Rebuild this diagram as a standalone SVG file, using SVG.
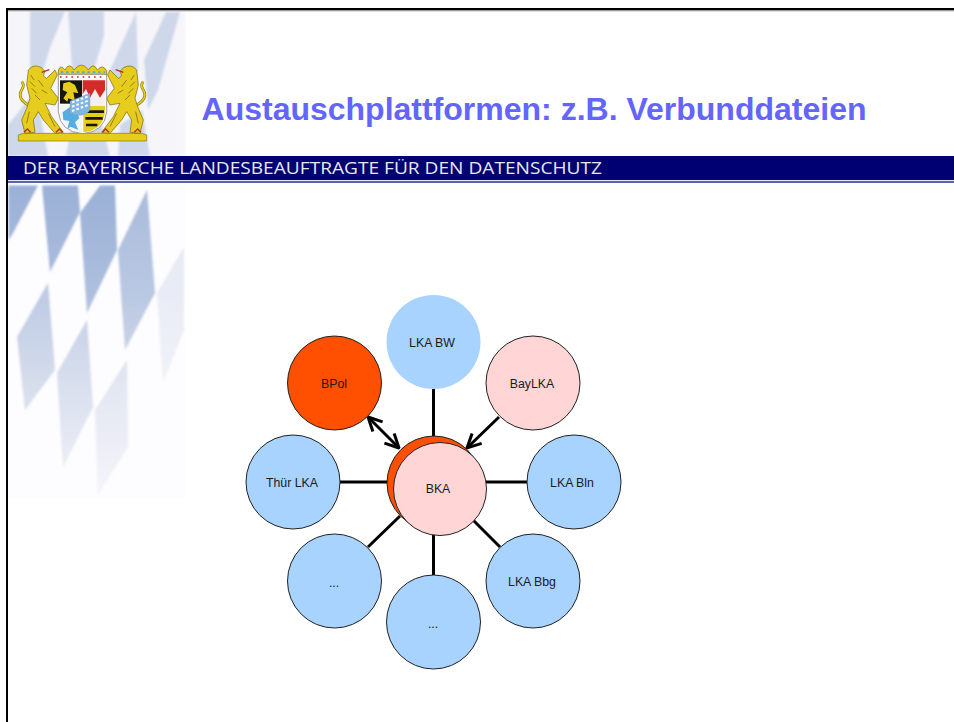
<svg xmlns="http://www.w3.org/2000/svg" width="954" height="722" viewBox="0 0 954 722">
<style>
.n{stroke:#222;stroke-width:1}
.b{fill:#a9d3ff}.p{fill:#ffd5d5}.o{fill:#ff4f00}
.t{font-family:"Liberation Sans",Arial,sans-serif;font-size:12.3px;text-anchor:middle;fill:#1a1a1a}
.c{stroke:#000;stroke-width:3;fill:none}
.y{fill:#e6cc1c;stroke:#7a6500;stroke-width:2}
.ln{fill:none;stroke:#6d5a00;stroke-width:2}
</style>
<defs>
<filter id="bl" x="-5%" y="-5%" width="110%" height="110%"><feGaussianBlur stdDeviation="1.2"/></filter>
<filter id="bs" x="-5%" y="-5%" width="110%" height="110%"><feGaussianBlur stdDeviation=".5"/></filter>
<linearGradient id="fc" x1="0" y1="185" x2="0" y2="499" gradientUnits="userSpaceOnUse"><stop offset="0" stop-color="#9ab0d6"/><stop offset=".35" stop-color="#aebfde"/><stop offset=".65" stop-color="#cdd6e8"/><stop offset="1" stop-color="#f0eff8"/></linearGradient>
<marker id="ah" viewBox="0 0 12 12" refX="11" refY="6" markerWidth="5.500" markerHeight="5.500" orient="auto-start-reverse" markerUnits="strokeWidth"><path d="M1 1L11 6L1 11" fill="none" stroke="#000" stroke-width="2.200"/></marker>
<g id="lion">
<path d="M55 150Q20 130 35 105Q45 90 35 80" fill="none" stroke="#7a6500" stroke-width="8"/>
<path d="M55 150Q20 130 35 105Q45 90 35 80" fill="none" stroke="#e6cc1c" stroke-width="5"/>
<path class="y" d="M55 45Q70 25 95 38L105 50Q95 65 110 70L135 45L142 60L122 100L145 130L135 150L105 145L125 185L160 232L135 235L100 195L85 170L70 195L75 232L45 235L35 195L50 160L60 130L50 90Z"/>
<path class="ln" d="M62 60L72 75M60 80L75 95M65 100L80 115M75 120L90 135M85 75L100 95M95 105L112 115M58 170L50 205M115 175L135 215"/>
<path d="M95 52L118 44" stroke="#c0232a" stroke-width="3.500" fill="none"/>
<path d="M42 232L52 222L62 232M138 232L148 222L158 232" fill="none" stroke="#b03020" stroke-width="4"/>
</g>
</defs>
<rect width="954" height="722" fill="#fff"/>
<g id="background">
<g filter="url(#bl)">
<rect x="8" y="11" width="177" height="145" fill="#f5f5fa"/>
<g fill="#ced8ea">
<path d="M30 11H65L50 48L37 90L30 72Z"/>
<path d="M68 11H104L104 36L88 90L72 68Z"/>
<path d="M110 70L136 12L138 70L122 110Z"/>
<path d="M144 60L166 12H180L158 90L148 110Z"/>
<path d="M8 125L36 90L48 156H8Z"/>
<path d="M76 100L92 90L110 156H66Z"/>
<path d="M120 125L142 110L150 156H118Z"/>
</g>
</g>
<rect x="8" y="185" width="177" height="314" fill="#fdfcfe"/>
<g filter="url(#bl)" fill="url(#fc)">
<path d="M8.500 185.500H38L12 235L8.500 240Z"/>
<path d="M42 185.500H78L80 212L50 272Z"/>
<path d="M80 213L100 185.500H115L117 250L87 313Z"/>
<path d="M118 250L147 190L155 293L125 350Z" opacity=".85"/>
<path d="M48 283L17 337L25 410L55 370Z" opacity=".8"/>
<path d="M87 320L57 373L63 467L93 407Z" opacity=".75"/>
<path d="M127 360L95 410L98 495L128 447Z" opacity=".55"/>
<path d="M184 247L157 293L163 383L184 330Z" opacity=".25"/>
</g>
</g>
<rect x="8" y="156" width="946" height="24" fill="#000072"/>
<rect x="8" y="180" width="946" height="1" fill="#e8e8f8"/>
<rect x="8" y="181" width="946" height="2" fill="#5a64a8"/>
<rect x="6" y="8" width="948" height="2.500" fill="#000"/>
<rect x="8" y="10.500" width="946" height="1" fill="#bbb"/>
<rect x="6" y="8" width="2" height="714" fill="#000"/>
<g id="crest" transform="translate(10 55) scale(.33333)" filter="url(#bs)">
<path d="M25 240L40 235H395L410 240V258H25Z" fill="#e6cc1c" stroke="#8a7400" stroke-width="2"/>
<use href="#lion"/>
<use href="#lion" transform="translate(435) scale(-1 1)"/>
<path d="M145 48Q150 25 165 45Q178 20 192 45Q215 15 235 45Q250 20 262 45Q278 25 290 48V60H145Z" fill="#e6cc1c" stroke="#7a6500" stroke-width="2"/>
<path d="M145 58H290V170Q285 230 218 236Q150 230 145 170Z" fill="#fff" stroke="#6d6d5a" stroke-width="2"/>
<path d="M152 52H285" stroke="#5aa8d8" stroke-width="6" stroke-dasharray="8 8"/>
<path d="M150 66H285" stroke="#c0232a" stroke-width="5" stroke-dasharray="5 12"/>
<rect x="150" y="76" width="66" height="70" fill="#15140c"/>
<path d="M160 85L178 80L195 90L205 115L190 112L195 138L175 130L172 140L160 130L172 112L158 105Z" fill="#e6cc1c"/>
<path d="M218 76H285V150H218Z" fill="#f5f0f0"/>
<path d="M218 76H285V105L270 128L255 102L240 128L228 102L218 118Z" fill="#d42b2b"/>
<path d="M150 150H216V232Q155 225 150 170Z" fill="#f4f4f4"/>
<path d="M158 172L180 156L200 165L208 190L195 202L205 225L182 215L172 222L178 198L160 195Z" fill="#55aee2"/>
<path d="M220 152H285V170Q280 225 220 232Z" fill="#e6cc1c"/>
<path d="M228 170H282M226 190H278M228 210H262" stroke="#15140c" stroke-width="8"/>
<path d="M180 138L240 115V165Q225 190 180 175Z" fill="#7fb6e8" stroke="#888" stroke-width="1"/>
<path d="M186 142L235 124M186 155L235 137M186 168L235 150" stroke="#fff" stroke-width="6" stroke-dasharray="8 6"/>
</g>
<text x="534" y="120" font-family="'Liberation Sans',Arial,sans-serif" font-size="32" font-weight="bold" fill="#6464ff" text-anchor="middle">Austauschplattformen: z.B. Verbunddateien</text>
<text x="23" y="174" font-family="'Open Sans','DejaVu Sans',sans-serif" font-size="16.500" fill="#e8e8f0" textLength="579" lengthAdjust="spacingAndGlyphs">DER BAYERISCHE LANDESBEAUFTRAGTE FÜR DEN DATENSCHUTZ</text>
<g id="connectors">
<path class="c" d="M433.500 389V436"/>
<path class="c" d="M433.500 530V575"/>
<path class="c" d="M340 482H388"/>
<path class="c" d="M486 482H527"/>
<path class="c" d="M368 547L400 516"/>
<path class="c" d="M473 520L500 547"/>
<path class="c" d="M499 417L467 448" marker-end="url(#ah)"/>
<path class="c" d="M368 417L399 448" marker-start="url(#ah)" marker-end="url(#ah)"/>
</g>
<g id="n-lka-bw"><circle class="b" cx="433.500" cy="342" r="47"/><text class="t" x="432" y="347">LKA BW</text></g>
<g id="n-baylka"><circle class="n p" cx="533" cy="383" r="47"/><text class="t" x="532" y="388">BayLKA</text></g>
<g id="n-lka-bln"><circle class="n b" cx="574" cy="482" r="47"/><text class="t" x="572" y="487">LKA Bln</text></g>
<g id="n-lka-bbg"><circle class="n b" cx="533" cy="581" r="47"/><text class="t" x="532" y="586">LKA Bbg</text></g>
<g id="n-dots-1"><circle class="n b" cx="433.500" cy="622" r="47"/><text class="t" x="433" y="628">...</text></g>
<g id="n-dots-2"><circle class="n b" cx="334.500" cy="581" r="47"/><text class="t" x="334" y="587">...</text></g>
<g id="n-thuer"><circle class="n b" cx="293" cy="482" r="47"/><text class="t" x="292" y="487">Thür LKA</text></g>
<g id="n-bpol"><circle class="n o" cx="334.500" cy="383" r="47"/><text class="t" x="334" y="388">BPol</text></g>
<g id="n-bka"><circle class="n o" cx="434" cy="483" r="47"/><circle class="n p" cx="440" cy="489" r="46.500"/><text class="t" x="438" y="493">BKA</text></g>
</svg>
